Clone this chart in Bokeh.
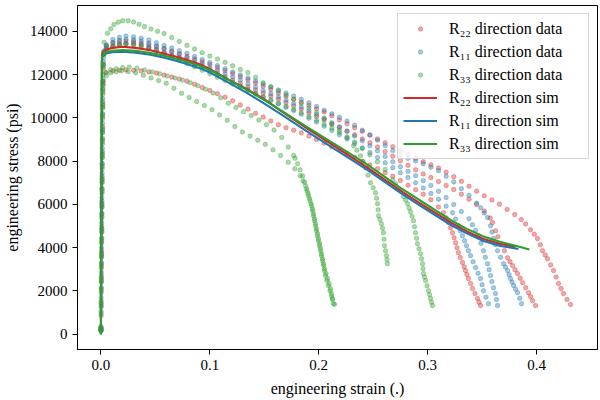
from bokeh.plotting import figure
from bokeh.models import ColumnDataSource, Range1d, FixedTicker, NumeralTickFormatter
from bokeh.embed import file_html
from bokeh.resources import INLINE

# ---------------------------------------------------------------------------
# Measured tension specimens: (engineering strain, engineering stress [psi])
# ---------------------------------------------------------------------------
r22_spec_a = [
    (0.0001, 230), (0.0003, 1300), (0.0004, 2450), (0.0006, 3600), (0.0008, 4750), (0.0010, 5900),
    (0.0011, 7050), (0.0013, 8200), (0.0015, 9350), (0.0017, 10500), (0.0019, 11600), (0.0022, 12500),
    (0.0028, 13050),
    (0.005, 13350), (0.011, 13470), (0.017, 13540), (0.023, 13555), (0.030, 13540), (0.037, 13460),
    (0.044, 13390), (0.051, 13300), (0.058, 13210), (0.065, 13090), (0.072, 12970), (0.079, 12850),
    (0.086, 12730), (0.093, 12600), (0.100, 12470), (0.107, 12330), (0.114, 12190), (0.121, 12050),
    (0.128, 11910), (0.135, 11770), (0.142, 11620), (0.149, 11470), (0.156, 11310), (0.163, 11150),
    (0.170, 11010), (0.177, 10870), (0.184, 10730), (0.191, 10580), (0.198, 10420), (0.205, 10280),
    (0.212, 10100), (0.219, 9910), (0.226, 9730), (0.233, 9550), (0.240, 9380), (0.247, 9210),
    (0.254, 9030), (0.261, 8850), (0.268, 8670), (0.275, 8480), (0.282, 8310), (0.289, 8130),
    (0.296, 7970), (0.303, 7830), (0.310, 7690), (0.317, 7490), (0.324, 7280), (0.331, 7070),
    (0.338, 6840), (0.345, 6610), (0.352, 6400), (0.359, 6210), (0.366, 6010), (0.373, 5770),
    (0.380, 5530), (0.386, 5300),
    (0.390, 5100), (0.3945, 4830), (0.398, 4620), (0.4009, 4420), (0.4035, 4130), (0.4055, 3860),
    (0.408, 3660), (0.4101, 3490), (0.413, 3200), (0.4156, 2940), (0.418, 2640), (0.4202, 2340),
    (0.4225, 2110), (0.4248, 1880), (0.428, 1600), (0.4312, 1370),
]
r22_spec_b = [
    (0.0000, 180), (0.0002, 850), (0.0004, 2000), (0.0005, 3150), (0.0007, 4300), (0.0009, 5450),
    (0.0011, 6600), (0.0012, 7750), (0.0014, 8900), (0.0016, 10050), (0.0018, 11200), (0.0021, 12300),
    (0.0027, 12950),
    (0.005, 13210), (0.011, 13330), (0.017, 13400), (0.023, 13425), (0.030, 13400), (0.037, 13330),
    (0.044, 13250), (0.051, 13140), (0.058, 13030), (0.065, 12900), (0.072, 12790), (0.079, 12670),
    (0.086, 12520), (0.093, 12380), (0.100, 12230), (0.107, 12070), (0.114, 11910), (0.121, 11750),
    (0.128, 11600), (0.135, 11440), (0.142, 11300), (0.149, 11150), (0.156, 11010), (0.163, 10870),
    (0.170, 10710), (0.177, 10560), (0.184, 10400), (0.191, 10230), (0.198, 10070), (0.205, 9900),
    (0.212, 9730), (0.219, 9560), (0.226, 9400), (0.233, 9220), (0.240, 9030), (0.247, 8850),
    (0.254, 8650), (0.261, 8440), (0.268, 8230), (0.275, 8020), (0.282, 7810), (0.289, 7600),
    (0.296, 7410), (0.303, 7240), (0.310, 7060), (0.317, 6880), (0.324, 6690), (0.331, 6470),
    (0.338, 6240), (0.345, 6000), (0.352, 5700),
    (0.3575, 5370), (0.3596, 5160), (0.3624, 4780), (0.3645, 4500), (0.3669, 4180), (0.3706, 3860),
    (0.3734, 3530), (0.3757, 3350), (0.378, 3170), (0.3803, 2980), (0.3826, 2800), (0.385, 2590),
    (0.3872, 2380), (0.390, 2150), (0.3927, 1920), (0.3945, 1740), (0.3963, 1550), (0.3991, 1320),
]
r22_spec_c = [
    (0.0001, 300), (0.0002, 1550), (0.0004, 2700), (0.0006, 3850), (0.0007, 5000), (0.0009, 6150),
    (0.0011, 7300), (0.0013, 8450), (0.0015, 9600), (0.0017, 10750), (0.0020, 11700),
    (0.005, 12100), (0.011, 12180), (0.017, 12200), (0.023, 12220), (0.030, 12200), (0.037, 12180),
    (0.044, 12130), (0.051, 12080), (0.058, 11980), (0.065, 11890), (0.072, 11800), (0.079, 11700),
    (0.086, 11560), (0.093, 11410), (0.100, 11270), (0.107, 11120), (0.114, 10960), (0.121, 10790),
    (0.128, 10600), (0.135, 10410), (0.142, 10220), (0.149, 10040), (0.156, 9860), (0.163, 9690),
    (0.170, 9550), (0.177, 9430), (0.184, 9310), (0.191, 9160), (0.198, 9000), (0.205, 8840),
    (0.212, 8670), (0.219, 8520), (0.226, 8360), (0.233, 8180), (0.240, 8000), (0.247, 7820),
    (0.254, 7650), (0.261, 7470), (0.268, 7300), (0.275, 7110), (0.282, 6890), (0.289, 6680),
    (0.296, 6470), (0.303, 6220), (0.310, 5880),
    (0.3145, 5620), (0.317, 5380), (0.3191, 5160), (0.321, 4920), (0.3228, 4690), (0.3243, 4460),
    (0.3256, 4230), (0.327, 4000), (0.3283, 3770), (0.330, 3540), (0.332, 3310), (0.3335, 3120),
    (0.3348, 2940), (0.336, 2760), (0.3375, 2570), (0.3395, 2340), (0.3412, 2110), (0.3435, 1880),
    (0.3458, 1650), (0.3472, 1480), (0.3486, 1320),
]

r11_spec_a = [
    (0.0000, 260), (0.0002, 1050), (0.0003, 2150), (0.0005, 3300), (0.0007, 4450), (0.0009, 5600),
    (0.0010, 6750), (0.0012, 7900), (0.0014, 9050), (0.0016, 10200), (0.0018, 11350), (0.0021, 12450),
    (0.0029, 13100),
    (0.005, 13370), (0.011, 13630), (0.017, 13730), (0.023, 13790), (0.030, 13750), (0.037, 13690),
    (0.044, 13600), (0.051, 13480), (0.058, 13350), (0.065, 13230), (0.072, 13110), (0.079, 12990),
    (0.086, 12840), (0.093, 12700), (0.100, 12560), (0.107, 12420), (0.114, 12280), (0.121, 12130),
    (0.128, 11990), (0.135, 11850), (0.142, 11710), (0.149, 11570), (0.156, 11430), (0.163, 11290),
    (0.170, 11150), (0.177, 11010), (0.184, 10860), (0.191, 10700), (0.198, 10530), (0.205, 10360),
    (0.212, 10190), (0.219, 10030), (0.226, 9860), (0.233, 9660), (0.240, 9430), (0.247, 9210),
    (0.254, 8970), (0.261, 8730), (0.268, 8490), (0.275, 8250), (0.282, 8130), (0.289, 8010),
    (0.296, 7880), (0.303, 7720), (0.310, 7560), (0.317, 7300), (0.324, 7040), (0.331, 6730),
    (0.338, 6420), (0.345, 6060),
    (0.3486, 5850), (0.352, 5600), (0.355, 5390), (0.3578, 5010), (0.359, 4720), (0.3605, 4420),
    (0.3622, 4140), (0.3642, 3860), (0.367, 3560), (0.3697, 3260), (0.3715, 3100), (0.3734, 2940),
    (0.3748, 2750), (0.3761, 2570), (0.3775, 2410), (0.3789, 2250), (0.3808, 2080), (0.3826, 1920),
    (0.3845, 1660), (0.3862, 1410),
]
r11_spec_b = [
    (0.0001, 150), (0.0002, 1400), (0.0004, 2550), (0.0006, 3700), (0.0008, 4850), (0.0009, 6000),
    (0.0011, 7150), (0.0013, 8300), (0.0015, 9450), (0.0017, 10600), (0.0019, 11700), (0.0022, 12600),
    (0.0028, 13050),
    (0.005, 13320), (0.011, 13490), (0.017, 13590), (0.023, 13640), (0.030, 13620), (0.037, 13560),
    (0.044, 13460), (0.051, 13330), (0.058, 13200), (0.065, 13060), (0.072, 12940), (0.079, 12800),
    (0.086, 12660), (0.093, 12510), (0.100, 12360), (0.107, 12200), (0.114, 12040), (0.121, 11890),
    (0.128, 11750), (0.135, 11580), (0.142, 11430), (0.149, 11270), (0.156, 11120), (0.163, 10970),
    (0.170, 10820), (0.177, 10670), (0.184, 10500), (0.191, 10330), (0.198, 10160), (0.205, 9990),
    (0.212, 9780), (0.219, 9590), (0.226, 9380), (0.233, 9160), (0.240, 8940), (0.247, 8710),
    (0.254, 8480), (0.261, 8220), (0.268, 7970), (0.275, 7740), (0.282, 7530), (0.289, 7330),
    (0.296, 7100), (0.303, 6880), (0.310, 6610), (0.317, 6320), (0.324, 6000), (0.331, 5670),
    (0.338, 5340),
    (0.3412, 5060), (0.344, 4800), (0.3467, 4550), (0.349, 4200), (0.3513, 3860), (0.353, 3560),
    (0.355, 3260), (0.3565, 2980), (0.3578, 2710), (0.359, 2430), (0.3605, 2150), (0.3623, 1880),
    (0.3633, 1600), (0.3642, 1320),
]
r11_spec_c = [
    (0.0000, 350), (0.0002, 1700), (0.0004, 2850), (0.0005, 4000), (0.0007, 5150), (0.0009, 6300),
    (0.0011, 7450), (0.0013, 8600), (0.0014, 9750), (0.0016, 10900), (0.0019, 12000), (0.0024, 12800),
    (0.005, 13130), (0.011, 13290), (0.017, 13400), (0.023, 13450), (0.030, 13460), (0.037, 13380),
    (0.044, 13280), (0.051, 13160), (0.058, 13030), (0.065, 12880), (0.072, 12750), (0.079, 12620),
    (0.086, 12460), (0.093, 12320), (0.100, 12170), (0.107, 12000), (0.114, 11820), (0.121, 11640),
    (0.128, 11480), (0.135, 11310), (0.142, 11140), (0.149, 10970), (0.156, 10810), (0.163, 10650),
    (0.170, 10490), (0.177, 10340), (0.184, 10170), (0.191, 9990), (0.198, 9810), (0.205, 9620),
    (0.212, 9420), (0.219, 9220), (0.226, 9030), (0.233, 8820), (0.240, 8610), (0.247, 8400),
    (0.254, 8170), (0.261, 7930), (0.268, 7700), (0.275, 7470), (0.282, 7240), (0.289, 7000),
    (0.296, 6760), (0.303, 6500), (0.310, 6240), (0.317, 5920),
    (0.3229, 5620), (0.3257, 5320), (0.3284, 5010), (0.330, 4780), (0.332, 4550), (0.334, 4320),
    (0.3357, 4090), (0.3375, 3860), (0.3394, 3630), (0.3417, 3350), (0.344, 3080), (0.3463, 2820),
    (0.3486, 2570), (0.350, 2290), (0.3513, 2010), (0.3536, 1710), (0.3559, 1410),
]

r33_spec_a = [
    (0.0000, 200), (0.0002, 950), (0.0003, 2100), (0.0005, 3250), (0.0007, 4400), (0.0008, 5550),
    (0.0010, 6700), (0.0012, 7850), (0.0014, 9000), (0.0015, 10150), (0.0017, 11300), (0.0020, 12350),
    (0.0024, 13000),
    (0.003, 13500), (0.006, 13920), (0.009, 14120), (0.012, 14320), (0.016, 14430), (0.020, 14490),
    (0.025, 14490), (0.030, 14440), (0.035, 14330), (0.040, 14230), (0.046, 14110), (0.052, 14010),
    (0.058, 13900), (0.065, 13720), (0.072, 13540), (0.079, 13360), (0.086, 13190), (0.093, 13020),
    (0.100, 12860), (0.107, 12720), (0.114, 12570), (0.121, 12410), (0.128, 12240), (0.135, 12100),
    (0.142, 11880), (0.149, 11630), (0.156, 11440), (0.163, 11250), (0.170, 11060), (0.177, 10860),
    (0.184, 10670), (0.191, 10460), (0.198, 10250), (0.205, 9960), (0.212, 9700), (0.219, 9420),
    (0.226, 9080), (0.232, 8710),
    (0.235, 8500), (0.2384, 8250), (0.2407, 7980), (0.243, 7700), (0.2453, 7350), (0.2476, 7000),
    (0.250, 6770), (0.2521, 6540), (0.2532, 6290), (0.254, 6030), (0.2545, 5750), (0.2549, 5480),
    (0.2563, 5300), (0.2576, 5110), (0.2586, 4900), (0.2595, 4690), (0.260, 4390), (0.2604, 4090),
    (0.2613, 3860), (0.2622, 3630), (0.2627, 3440), (0.2631, 3260),
]
r33_spec_b = [
    (0.0001, 160), (0.0002, 1250), (0.0004, 2400), (0.0006, 3550), (0.0008, 4700), (0.0009, 5850),
    (0.0011, 7000), (0.0013, 8150), (0.0015, 9300), (0.0017, 10450), (0.0019, 11550), (0.0022, 12450),
    (0.0027, 12950),
    (0.005, 13210), (0.011, 13330), (0.017, 13400), (0.023, 13425), (0.030, 13380), (0.037, 13290),
    (0.044, 13180), (0.051, 13050), (0.058, 12930), (0.065, 12790), (0.072, 12670), (0.079, 12520),
    (0.086, 12360), (0.093, 12200), (0.100, 12040), (0.107, 11880), (0.114, 11730), (0.121, 11570),
    (0.128, 11420), (0.135, 11260), (0.142, 11120), (0.149, 10970), (0.156, 10830), (0.163, 10680),
    (0.170, 10540), (0.177, 10390), (0.184, 10230), (0.191, 10060), (0.198, 9890), (0.205, 9710),
    (0.212, 9520), (0.219, 9320), (0.226, 9130), (0.233, 8890), (0.240, 8590), (0.247, 8290),
    (0.254, 7970), (0.261, 7620), (0.268, 7140),
    (0.2705, 6960), (0.2742, 6660), (0.2779, 6360), (0.2798, 6200), (0.2816, 6030), (0.283, 5840),
    (0.2843, 5660), (0.2857, 5450), (0.2871, 5250), (0.288, 4970), (0.2889, 4690), (0.2898, 4430),
    (0.2907, 4180), (0.2921, 3950), (0.2935, 3720), (0.2944, 3490), (0.2953, 3260), (0.2958, 3030),
    (0.2962, 2800), (0.2972, 2640), (0.2981, 2480), (0.2995, 2240), (0.3008, 2010), (0.3018, 1830),
    (0.3027, 1650), (0.3036, 1480), (0.3045, 1320),
]
r33_spec_c = [
    (0.0001, 280), (0.0002, 1450), (0.0004, 2600), (0.0006, 3750), (0.0008, 4900), (0.0009, 6050),
    (0.0011, 7200), (0.0013, 8350), (0.0015, 9500), (0.0017, 10650), (0.0020, 11500),
    (0.005, 11960), (0.009, 12090), (0.014, 12140), (0.019, 12180), (0.025, 12140), (0.032, 12090),
    (0.039, 11970), (0.046, 11850), (0.053, 11730), (0.060, 11600), (0.067, 11370), (0.074, 11140),
    (0.081, 10950), (0.088, 10760), (0.095, 10570), (0.102, 10380), (0.109, 10140), (0.116, 9890),
    (0.123, 9600), (0.130, 9350), (0.137, 9160), (0.144, 8970), (0.151, 8780), (0.158, 8530),
    (0.165, 8260), (0.172, 7950), (0.178, 7650), (0.183, 7330),
    (0.1856, 7090), (0.1879, 6860), (0.1893, 6630), (0.1906, 6400), (0.192, 6170), (0.1934, 5940),
    (0.1943, 5710), (0.1952, 5480), (0.1961, 5250), (0.197, 5010), (0.1979, 4780), (0.1988, 4550),
    (0.1998, 4320), (0.2007, 4090), (0.2016, 3860), (0.2025, 3630), (0.2035, 3400), (0.2044, 3170),
    (0.2053, 2940), (0.2062, 2710), (0.2075, 2480), (0.2089, 2250), (0.2103, 2010), (0.2117, 1780),
    (0.2126, 1600), (0.2135, 1410),
]
r33_spec_d = [
    (0.0000, 220), (0.0002, 1900), (0.0004, 3050), (0.0006, 4200), (0.0008, 5350), (0.0010, 6500),
    (0.0012, 7650), (0.0014, 8800), (0.0016, 9950), (0.0018, 11100), (0.0021, 11800),
    (0.004, 12110), (0.009, 12230), (0.014, 12280), (0.020, 12330), (0.026, 12350), (0.033, 12300),
    (0.040, 12220), (0.047, 12130), (0.054, 12040), (0.061, 11940), (0.068, 11850), (0.075, 11750),
    (0.082, 11630), (0.089, 11490), (0.096, 11330), (0.103, 11150), (0.110, 10930), (0.117, 10680),
    (0.124, 10480), (0.131, 10290), (0.138, 10110), (0.145, 9910), (0.152, 9690), (0.159, 9440),
    (0.166, 9100), (0.172, 8660), (0.177, 8260),
    (0.1783, 8130), (0.1806, 7880), (0.1829, 7600), (0.1852, 7320), (0.187, 7030), (0.1888, 6730),
    (0.1902, 6500), (0.1916, 6270), (0.193, 6030), (0.1943, 5800), (0.1952, 5570), (0.1962, 5340),
    (0.1971, 5110), (0.198, 4880), (0.1989, 4650), (0.1998, 4420), (0.2008, 4190), (0.2017, 3960),
    (0.2026, 3720), (0.2035, 3490), (0.2044, 3260), (0.2053, 3030), (0.2067, 2800), (0.2081, 2570),
    (0.2095, 2340), (0.2108, 2110), (0.2117, 1880), (0.2126, 1650), (0.2145, 1380),
]

# ---------------------------------------------------------------------------
# Simulated responses
# ---------------------------------------------------------------------------
sim_r22 = [
    (0.0, 0), (0.0010, 12920), (0.0042, 13150), (0.0107, 13240), (0.0198, 13290), (0.0318, 13240),
    (0.0455, 13130), (0.0593, 12960), (0.0730, 12780), (0.0915, 12470), (0.1024, 12200),
    (0.1176, 11760), (0.1328, 11360), (0.1490, 10900), (0.1652, 10330), (0.1927, 9400),
    (0.2202, 8510), (0.2447, 7700), (0.2751, 6640), (0.2934, 6040), (0.3210, 5170), (0.3360, 4750),
    (0.3513, 4400), (0.3669, 4170), (0.3807, 4030),
]
sim_r11 = [
    (0.0, 0), (0.0010, 12800), (0.0042, 12980), (0.0107, 13040), (0.0198, 13060), (0.0318, 13020),
    (0.0455, 12920), (0.0593, 12770), (0.0730, 12590), (0.0915, 12290), (0.1024, 12040),
    (0.1176, 11620), (0.1328, 11190), (0.1490, 10700), (0.1652, 10180), (0.1927, 9260),
    (0.2202, 8380), (0.2447, 7600), (0.2751, 6530), (0.2934, 5930), (0.3210, 5060), (0.3360, 4660),
    (0.3513, 4310), (0.3669, 4080), (0.3834, 3940),
]
sim_r33 = [
    (0.0, 0), (0.0010, 12850), (0.0042, 13050), (0.0107, 13110), (0.0198, 13140), (0.0318, 13100),
    (0.0455, 13000), (0.0593, 12860), (0.0730, 12690), (0.0915, 12400), (0.1024, 12160),
    (0.1176, 11750), (0.1328, 11340), (0.1490, 10860), (0.1652, 10350), (0.1927, 9470),
    (0.2202, 8620), (0.2447, 7840), (0.2751, 6770), (0.2934, 6170), (0.3210, 5280), (0.3360, 4870),
    (0.3513, 4520), (0.3669, 4260), (0.3807, 4090), (0.3935, 3910),
]

x_ticks = [0.0, 0.1, 0.2, 0.3, 0.4]
y_ticks = [0, 2000, 4000, 6000, 8000, 10000, 12000, 14000]

RED, BLUE, GREEN = "#d62728", "#1f77b4", "#2ca02c"
FONT = "Liberation Serif"


def to_source(*curves):
    strain, stress = [], []
    for curve in curves:
        for e, s in curve:
            strain.append(e)
            stress.append(s)
    return ColumnDataSource(dict(strain=strain, stress=stress))


p = figure(
    width=600, height=400, output_backend="svg", toolbar_location=None,
    x_range=Range1d(-0.0215, 0.456), y_range=Range1d(-710, 15200),
    min_border_left=77, min_border_right=3, min_border_top=5, min_border_bottom=51,
    background_fill_color="white", border_fill_color="white",
)
p.xgrid.visible = False
p.ygrid.visible = False
p.outline_line_color = "black"
p.outline_line_width = 1
p.outline_line_alpha = 1

# measured data as translucent dots
for curves, color, label in [
    ((r22_spec_a, r22_spec_b, r22_spec_c), RED, "R₂₂ direction data"),
    ((r11_spec_a, r11_spec_b, r11_spec_c), BLUE, "R₁₁ direction data"),
    ((r33_spec_a, r33_spec_b, r33_spec_c, r33_spec_d), GREEN, "R₃₃ direction data"),
]:
    p.scatter("strain", "stress", source=to_source(*curves), size=4.5,
              fill_color=color, line_color=color, fill_alpha=0.4, line_alpha=0.4,
              line_width=0.8, legend_label=label)

# simulations as solid lines
for curve, color, label in [
    (sim_r22, RED, "R₂₂ direction sim"),
    (sim_r11, BLUE, "R₁₁ direction sim"),
    (sim_r33, GREEN, "R₃₃ direction sim"),
]:
    p.line("strain", "stress", source=to_source(curve), line_color=color,
           line_width=2.1, legend_label=label)

for ax in (p.xaxis[0], p.yaxis[0]):
    ax.major_tick_in = 0
    ax.major_tick_out = 5
    ax.minor_tick_line_color = None
    ax.axis_line_color = "black"
    ax.major_tick_line_color = "black"
    ax.major_label_text_font = FONT
    ax.major_label_text_font_size = "15px"
    ax.major_label_text_color = "black"
    ax.major_label_standoff = 5
    ax.axis_label_text_font = FONT
    ax.axis_label_text_font_size = "16px"
    ax.axis_label_text_font_style = "normal"
    ax.axis_label_text_color = "black"

p.xaxis.ticker = FixedTicker(ticks=x_ticks)
p.xaxis.formatter = NumeralTickFormatter(format="0.0")
p.yaxis.ticker = FixedTicker(ticks=y_ticks)
p.yaxis.formatter = NumeralTickFormatter(format="0")
p.xaxis.axis_label = "engineering strain (.)"
p.yaxis.axis_label = "engineering stress (psi)"
p.xaxis.axis_label_standoff = 7
p.yaxis.axis_label_standoff = 6

lg = p.legend[0]
lg.location = "top_right"
lg.margin = 8
lg.padding = 5
lg.spacing = 4
lg.label_height = 19
lg.glyph_height = 11
lg.glyph_width = 34
lg.label_standoff = 12
lg.label_width = 134
lg.label_text_font = FONT
lg.label_text_font_size = "16px"
lg.label_text_color = "black"
lg.border_line_color = "#cccccc"
lg.border_line_alpha = 0.8
lg.background_fill_color = "white"
lg.background_fill_alpha = 0.8

open("out.html", "w").write(file_html(p, INLINE))
